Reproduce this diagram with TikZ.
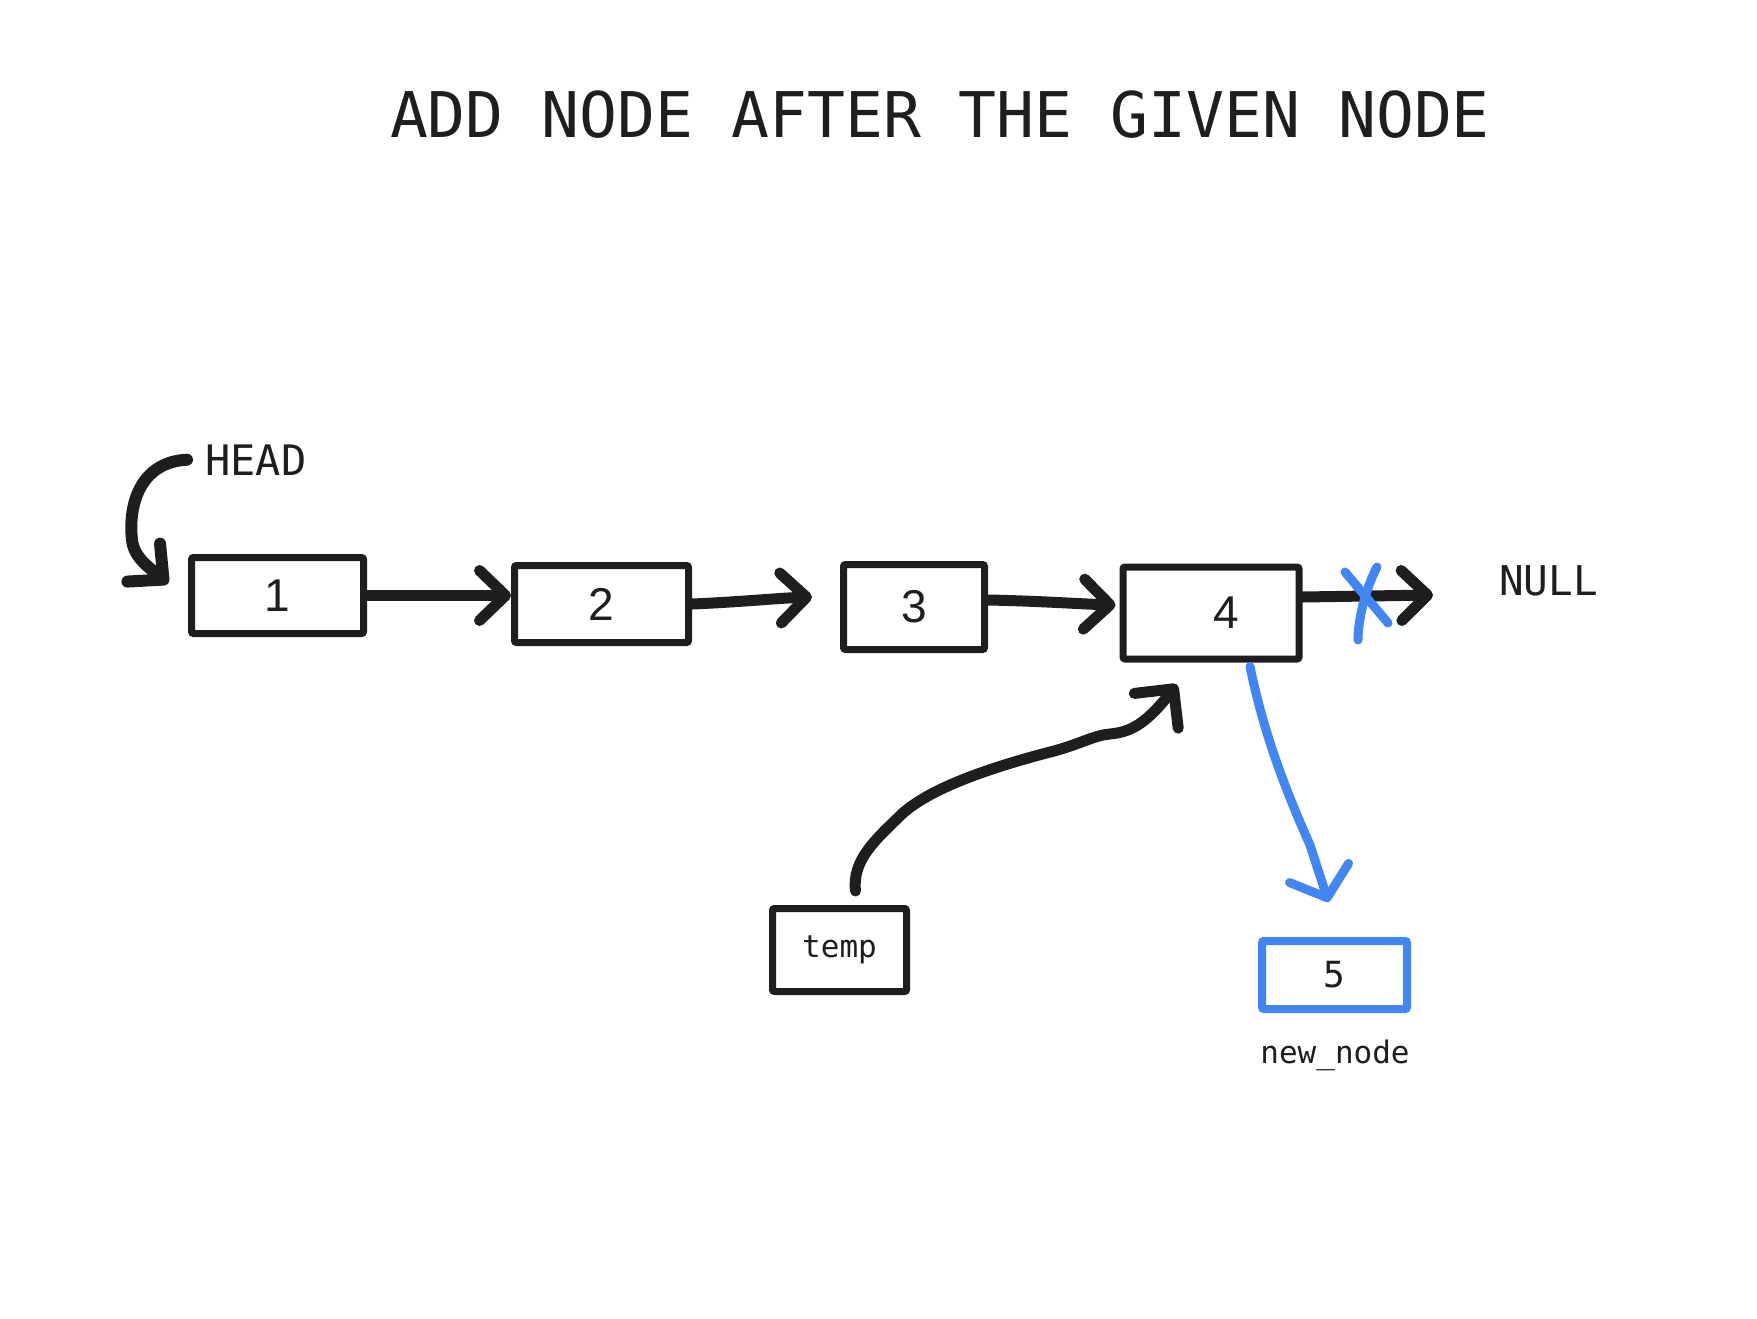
\documentclass[tikz,border=0pt]{standalone}
\usepackage{fontspec}
\setmainfont{Liberation Sans}
\setmonofont{DejaVu Sans Mono}
\usetikzlibrary{arrows.meta}
\definecolor{ink}{RGB}{30,30,30}
\definecolor{pen}{RGB}{66,133,244}
\tikzset{
	cell/.style={draw=ink, line width=7pt, rounded corners=2pt, inner sep=0pt, text=ink, font=\fontsize{46}{50}\selectfont},
	tag/.style={inner sep=0pt, text=ink, font=\ttfamily\fontsize{42}{46}\selectfont},
	pointer/.style={draw=ink, line width=11pt, line cap=round, line join=round, -{Straight Barb[length=26pt,width=50pt,round]}},
	cross/.style={draw=pen, line width=9pt, line cap=round},
}
\begin{document}
\begin{tikzpicture}[x=1pt,y=-1pt]
	\useasboundingbox[fill=white] (0,0) rectangle (1757,1318);
	\node[tag, anchor=base, font=\ttfamily\fontsize{63}{70}\selectfont] (title) at (940,137) {ADD NODE AFTER THE GIVEN NODE};
	% the list
	\node[cell, minimum width=172pt, minimum height=76pt] (box1) at (277.5,595.5) {1};
	\node[cell, minimum width=174pt, minimum height=77pt] (box2) at (601.5,604) {2};
	\node[cell, minimum width=141pt, minimum height=85pt] (box3) at (914,607) {3};
	\node[cell, minimum width=176pt, minimum height=92pt] (box4) at (1211,613) {\hspace*{30pt}4};
	\node[cell, minimum width=134pt, minimum height=83pt, font=\ttfamily\fontsize{31}{34}\selectfont] (temp) at (839.5,950) {temp};
	\node[cell, draw=pen, line width=8pt, minimum width=145pt, minimum height=68pt, font=\ttfamily\fontsize{36}{40}\selectfont] (newnode) at (1334.5,975) {5};
	\node[tag, anchor=base west] (head) at (205,475) {HEAD};
	\node[tag, anchor=base west, font=\ttfamily\fontsize{41}{45}\selectfont] (null) at (1499,595) {NULL};
	\node[tag, anchor=base, font=\ttfamily\fontsize{31}{34}\selectfont] (label5) at (1335,1063) {new\_node};
	% pointers
	\draw[pointer, line width=12pt] ([xshift=-18pt]head.west) .. controls (140,462) and (128,505) .. (132,540) .. controls (134,558) and (150,568) .. ([xshift=-20pt,yshift=12pt]box1.west);
	\draw[pointer] (box1.east) -- (box1.east -| box2.west);
	\draw[pointer] (box2.east) .. controls (740,602) and (780,598) .. ([xshift=-28pt,yshift=10pt]box3.west);
	\draw[pointer] ([yshift=7pt]box3.east) .. controls (1040,601) and (1080,604) .. ([xshift=-4pt,yshift=8pt]box4.west);
	\draw[pointer] ([yshift=16pt]box4.east) -- ([xshift=-66pt]null.base west);
	\draw[pointer, -{Straight Barb[length=28pt,width=56pt,round]}] ([xshift=16pt,yshift=14pt]temp.north) .. controls (852,860) and (875,840) .. (903,813) .. controls (935,785) and (1000,765) .. (1054,751) .. controls (1080,744) and (1095,735) .. (1110,734) .. controls (1130,732) and (1145,725) .. ([xshift=-34pt,yshift=-22pt]box4.south);
	\draw[pointer, draw=pen, line width=9pt, -{Straight Barb[length=26pt,width=62pt,round]}] ([xshift=39pt,yshift=-4pt]box4.south) .. controls (1265,740) and (1290,800) .. (1310,845) -- ([xshift=-6pt,yshift=35pt]newnode.north);
	% cut link
	\draw[cross] (1345,572) -- (1388,623);
	\draw[cross] (1377,567) .. controls (1365,590) and (1358,620) .. (1358,640);
\end{tikzpicture}
\end{document}
